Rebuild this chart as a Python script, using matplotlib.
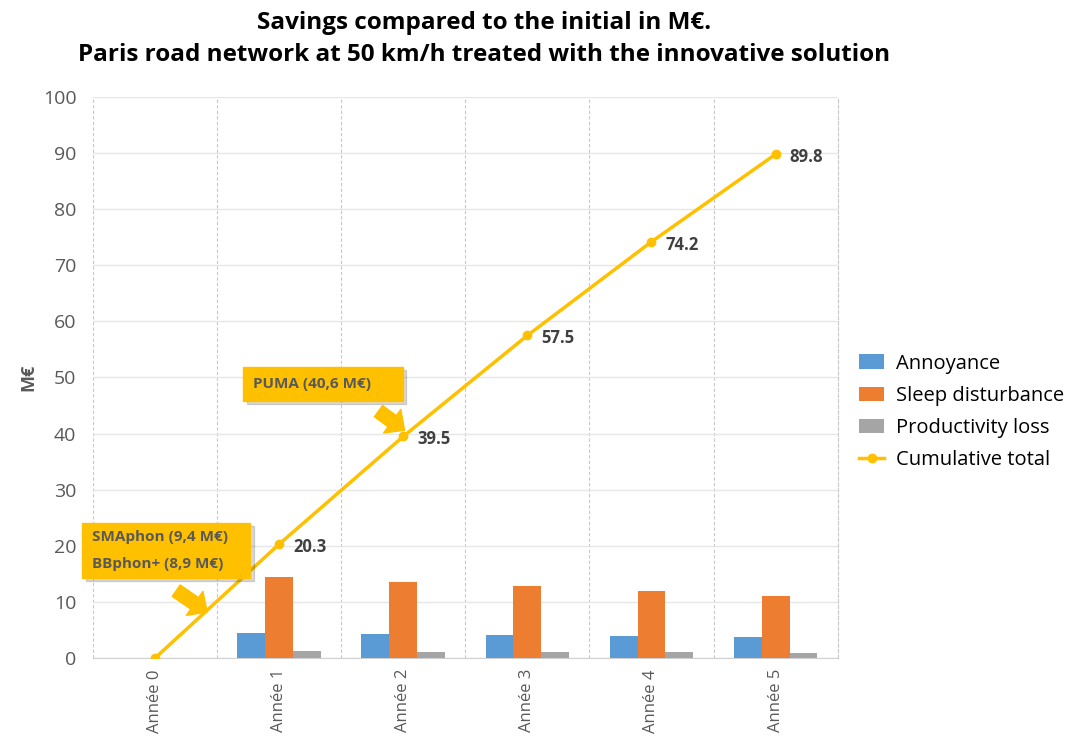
import numpy as np
import matplotlib
matplotlib.use('Agg')
from matplotlib import pyplot as plt
from matplotlib import patches

plt.rcParams['font.family'] = ['Open Sans', 'DejaVu Sans']

years = ['Année 0', 'Année 1', 'Année 2', 'Année 3', 'Année 4', 'Année 5']
annoyance = [0, 4.5, 4.3, 4.1, 3.9, 3.7]
sleep = [0, 14.5, 13.6, 12.8, 12.0, 11.1]
productivity = [0, 1.3, 1.1, 1.1, 1.0, 0.9]
cumulative = [0, 20.3, 39.5, 57.5, 74.2, 89.8]

c_blue = '#5b9bd5'
c_orange = '#ed7d31'
c_gray = '#a5a5a5'
c_gold = '#ffc000'
c_text = '#595959'

fig = plt.figure(figsize=(10.87, 7.45), dpi=100)
ax = fig.add_axes([0.0856, 0.1168, 0.685, 0.753])

x = np.arange(len(years))
w = 0.225
ax.bar(x - w, annoyance, w, color=c_blue, label='Annoyance', zorder=3)
ax.bar(x, sleep, w, color=c_orange, label='Sleep disturbance', zorder=3)
ax.bar(x + w, productivity, w, color=c_gray, label='Productivity loss', zorder=3)
ax.plot(x, cumulative, color=c_gold, lw=2.5, marker='o', ms=6, label='Cumulative total', zorder=4)

for xi, v in zip(x[1:], cumulative[1:]):
    ax.annotate(f'{v:.1f}', (xi, v), xytext=(10, -2), textcoords='offset points',
                fontsize=12, fontweight='bold', color='#404040', va='center')

ax.set_xlim(-0.5, len(years) - 0.5)
ax.set_ylim(0, 100)
ax.set_yticks(range(0, 101, 10))
ax.set_xticks(x)
ax.set_xticklabels(years, rotation=90, fontsize=12, color=c_text)
ax.tick_params(axis='y', labelsize=14, colors=c_text, length=0, pad=12)
ax.tick_params(axis='x', length=0, pad=8)
ax.yaxis.grid(True, color='#e6e6e6', lw=1, zorder=0)
for b in np.arange(-0.5, len(years) - 0.5, 1):
    ax.axvline(b, color='#c8c8c8', lw=0.8, ls=(0, (3, 2)), zorder=0)
for s in ['top', 'left']:
    ax.spines[s].set_visible(False)
ax.spines['bottom'].set_color('#d0d0d0')
ax.spines['right'].set_color('#c8c8c8')
ax.spines['right'].set_linestyle((0, (3, 2)))
ax.spines['right'].set_linewidth(0.8)
ax.set_ylabel('M€', fontsize=13, fontweight='bold', color=c_text, labelpad=4)

# callout boxes with arrows
def callout(x0, y0, x1, y1, lines, tail, head):
    sh = patches.Rectangle((x0 + 0.03, y1 - 0.6), x1 - x0, y0 - y1, color='#000000',
                           alpha=0.15, zorder=5, clip_on=False)
    ax.add_patch(sh)
    ax.add_patch(patches.Rectangle((x0, y1), x1 - x0, y0 - y1, color=c_gold,
                                   zorder=6, clip_on=False))
    n = len(lines)
    for i, t in enumerate(lines):
        yy = y0 - (y0 - y1) * (i + 0.5) / n
        ax.text(x0 + 0.08, yy, t, fontsize=11, fontweight='bold', color=c_text,
                va='center', ha='left', zorder=7)
    ax.annotate('', xy=head, xytext=tail, zorder=6,
                arrowprops=dict(arrowstyle='simple,head_length=1.1,head_width=2.1,tail_width=1.0',
                                color=c_gold, shrinkA=0, shrinkB=0))

callout(-0.587, 24.1, 0.764, 14.3, ['SMAphon (9,4 M€)', 'BBphon+ (8,9 M€)'],
        (0.17, 12.0), (0.42, 8.2))
callout(0.708, 51.9, 1.995, 45.8, ['PUMA (40,6 M€)'], (1.8, 44.0), (2.01, 40.6))

handles, labels = ax.get_legend_handles_labels()
order = [1, 2, 3, 0]
ax.legend([handles[i] for i in order], [labels[i] for i in order],
          loc='upper left', bbox_to_anchor=(1.005, 0.575), frameon=False, fontsize=14.5,
          handlelength=1.2, handletextpad=0.6, labelspacing=0.6)

fig.text(0.445, 0.985, 'Savings compared to the initial in M€.\n'
         'Paris road network at 50 km/h treated with the innovative solution',
         ha='center', va='top', fontsize=17.5, fontweight='bold', linespacing=1.45)

fig.savefig('out.png', dpi=100)
